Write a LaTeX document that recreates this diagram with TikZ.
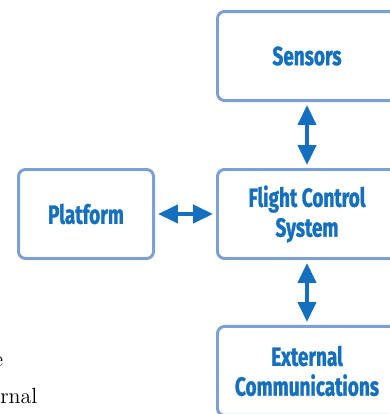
\documentclass[tikz,border=0pt]{standalone}
\usepackage{fontspec}
\newfontfamily\boxfont{Fira Sans}[FakeStretch=0.72,BoldFeatures={FakeBold=1.2}]
\usetikzlibrary{arrows.meta,positioning}
\definecolor{boxline}{RGB}{122,160,214}
\definecolor{boxtext}{RGB}{20,112,190}

\begin{document}
\begin{tikzpicture}[
    node distance=1.3cm,
    block/.style={draw=boxline,line width=1.7pt,rounded corners=4pt,fill=white,
      text=boxtext,font=\boxfont\bfseries\fontsize{15}{17}\selectfont,align=center,
      minimum width=3.58cm,minimum height=1.78cm,inner sep=0pt},
    link/.style={boxtext,line width=2.3pt,
      {Triangle[length=0.4cm,width=0.36cm]}-{Triangle[length=0.4cm,width=0.36cm]},
      shorten <=1.7pt,shorten >=1.7pt},
    page/.style={inner sep=0pt,font=\fontsize{12.5}{15}\selectfont}
  ]
    \useasboundingbox (0,0) rectangle (7.8,8.28);
    \clip (0,0) rectangle (7.8,8.28);
    \node[block] (fcs) at (6.14,4.0) {Flight Control\\System};
    \node[block,above=1.32cm of fcs] (sensors) {Sensors};
    \node[block,below=1.3cm of fcs] (extcomm) {External\\Communications};
    \node[block,left=1.22cm of fcs,minimum width=2.7cm] (platform) {Platform};
    \draw[link] (platform) -- (fcs);
    \draw[link] (sensors) -- (fcs);
    \draw[link] (fcs) -- (extcomm);
    % bits of the surrounding page text
    \node[page,anchor=base east] (texte) at (0.07,0.94) {e};
    \node[page,anchor=base west] (textrnal) at (0,0.22) {rnal};
  \end{tikzpicture}
\end{document}
